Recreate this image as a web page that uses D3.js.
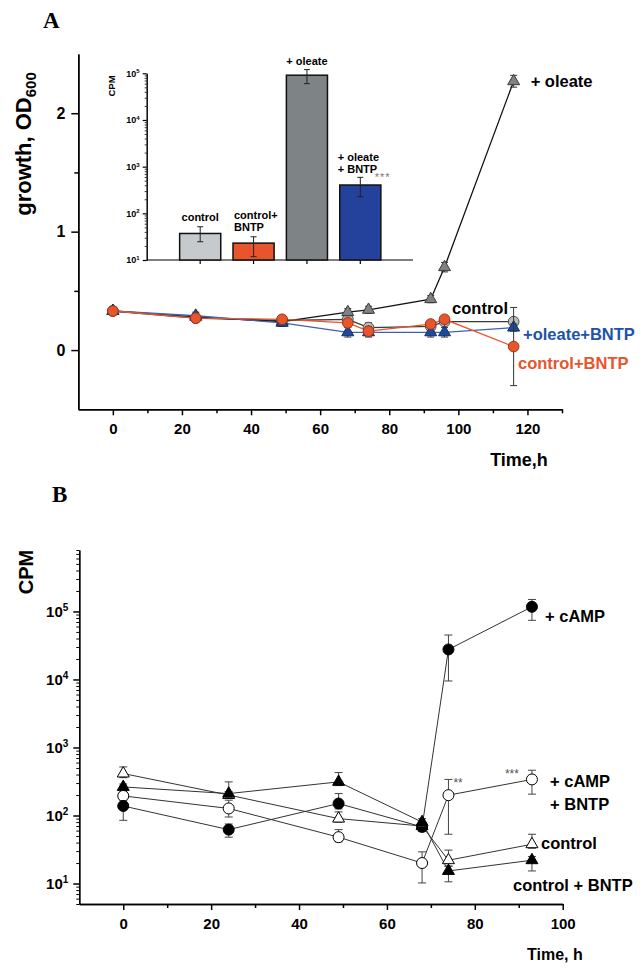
<!DOCTYPE html>
<html><head><meta charset="utf-8">
<script src="https://cdn.jsdelivr.net/npm/d3@7"></script>
<style>
body{margin:0;background:#fff}
svg{display:block}
text{font-family:"Liberation Sans",Arial,sans-serif;font-weight:bold;fill:#000}
</style>
</head><body>
<svg id="c" width="644" height="969"></svg>
<script>
// ---------- Panel A: growth (OD600) ----------
const timeA = [0, 24, 49, 68, 74, 92, 96, 116];
const odControl      = [0.33, 0.27, 0.25, 0.26, 0.19, 0.20, 0.24, 0.24];
const odControlErr   = [0.03, 0.03, 0.03, 0.03, 0.04, 0.03, 0.03, 0.03];
const odOleate       = [0.33, 0.28, 0.24, 0.32, 0.34, 0.43, 0.70, 2.27];
const odOleateErr    = [0.03, 0.03, 0.04, 0.03, 0.03, 0.03, 0.04, 0.05];
const odOleateBntp   = [0.33, 0.29, 0.23, 0.15, 0.15, 0.15, 0.15, 0.19];
const odOleateBntpErr= [0.03, 0.03, 0.03, 0.04, 0.04, 0.04, 0.04, 0.03];
const odControlBntp  = [0.33, 0.27, 0.26, 0.23, 0.16, 0.22, 0.26, 0.03];
const odControlBntpErr=[0.03, 0.03, 0.03, 0.03, 0.04, 0.03, 0.03, 0.33];
const timeATicks = [0, 20, 40, 60, 80, 100, 120];
const odTicks = [0, 1, 2];

// ---------- Panel A inset: CPM bars ----------
const insetCats = ["control", "control+BNTP", "+ oleate", "+ oleate + BNTP"];
const insetCpm  = [37, 23, 91000, 404];
const insetLo   = [24.6, 11.8, 60000, 227];
const insetHi   = [51.6, 31.5, 120000, 590];
const insetTicks = [10, 100, 1000, 10000, 100000];

// ---------- Panel B: CPM over time ----------
const timeB = [0, 24, 49, 68, 74, 93];
const cpmCamp       = [138, 62, 150, 68, 27600, 117000];
const cpmCampLo     = [85, 48, 125, 58, 9500, 74000];
const cpmCampHi     = [165, 75, 210, 80, 45000, 150000];
const cpmCampBntp   = [194, 127, 48, 20, 199, 339];
const cpmCampBntpLo = [170, 95, 41, 10.2, 53, 206];
const cpmCampBntpHi = [222, 168, 62, 29.2, 339, 463];
const cpmControl    = [414, 200, 90, 70, 22, 37.8];
const cpmControlLo  = [360, 180, 80, 62, 18, 33];
const cpmControlHi  = [518, 225, 113, 80, 31, 53];
const cpmControlBntp   = [263, 210, 312, 80, 15.3, 22];
const cpmControlBntpLo = [235, 185, 275, 70, 10.6, 15.3];
const cpmControlBntpHi = [290, 312, 428, 90, 18, 25];
const timeBTicks = [0, 20, 40, 60, 80, 100];
const cpmTicks = [10, 100, 1000, 10000, 100000];

const svg = d3.select("#c");

function styleAxis(g, sw, fs) {
  g.select(".domain").attr("stroke", "#000").attr("stroke-width", sw);
  g.selectAll(".tick line").attr("stroke", "#000").attr("stroke-width", sw);
  g.selectAll(".tick text").attr("fill", "#000").style("font-size", fs + "px")
    .style("font-weight", "bold").style("font-family", '"Liberation Sans",Arial,sans-serif');
}
function powLabels(g, supfs) {
  g.selectAll(".tick text").each(function (d) {
    const t = d3.select(this);
    t.text("");
    t.append("tspan").text("10");
    t.append("tspan").attr("dy", "-0.55em").style("font-size", supfs + "px").text(Math.round(Math.log10(d)));
  });
}
function logMinors(domain) {
  const out = [];
  for (let e = Math.floor(Math.log10(domain[0])); e <= Math.ceil(Math.log10(domain[1])); e++) {
    for (let m = 2; m <= 9; m++) {
      const v = m * Math.pow(10, e);
      if (v >= domain[0] && v <= domain[1]) out.push(v);
    }
  }
  return out;
}

// ================= PANEL A =================
const xA = d3.scaleLinear().domain([-10, 130]).range([78.3, 562]);
const yA = d3.scaleLinear().domain([-0.5, 2.5]).range([409.3, 54]);

svg.append("text").attr("x", 43).attr("y", 28)
  .style("font-family", '"Liberation Serif","Times New Roman",serif').style("font-size", "23px").text("A");

// axes
const gAx = svg.append("g").attr("transform", `translate(0,${yA(-0.5)})`)
  .call(d3.axisBottom(xA).tickValues(timeATicks).tickFormat(d3.format("d")).tickSize(6).tickSizeOuter(0).tickPadding(8));
styleAxis(gAx, 1.5, 15);
const gAxm = svg.append("g").attr("transform", `translate(0,${yA(-0.5)})`)
  .call(d3.axisBottom(xA).tickValues(d3.range(10, 131, 20)).tickFormat("").tickSize(4).tickSizeOuter(0));
styleAxis(gAxm, 1.5, 15);
const gAy = svg.append("g").attr("transform", `translate(${xA(-10)},0)`)
  .call(d3.axisLeft(yA).tickValues(odTicks).tickFormat(d3.format("d")).tickSize(7).tickSizeOuter(0).tickPadding(6));
styleAxis(gAy, 1.5, 16);
const gAym = svg.append("g").attr("transform", `translate(${xA(-10)},0)`)
  .call(d3.axisLeft(yA).tickValues([0.5, 1.5]).tickFormat("").tickSize(4).tickSizeOuter(0));
styleAxis(gAym, 1.5, 16);

svg.append("text").attr("transform", "translate(31,144) rotate(-90)").attr("text-anchor", "middle")
  .style("font-size", "22px")
  .call(t => { t.append("tspan").text("growth, OD"); t.append("tspan").attr("dy", "5").style("font-size", "15px").text("600"); });
svg.append("text").attr("x", 519).attr("y", 466).attr("text-anchor", "middle").style("font-size", "18px").text("Time,h");

const seriesA = [
  { vals: odControl, err: odControlErr, sym: d3.symbolCircle, size: 90, fill: "#bcbcbc", stroke: "#4a4a4a", line: "#3a3a3a" },
  { vals: odOleate, err: odOleateErr, sym: d3.symbolTriangle, size: 62, fill: "#7f8183", stroke: "#3a3a3a", line: "#111" },
  { vals: odOleateBntp, err: odOleateBntpErr, sym: d3.symbolTriangle, size: 62, fill: "#1d4a9a", stroke: "#0f2c66", line: "#3a62b8" },
  { vals: odControlBntp, err: odControlBntpErr, sym: d3.symbolCircle, size: 90, fill: "#e8542c", stroke: "#9a3416", line: "#e8542c" }
];
const lineA = d3.line().x(d => xA(d[0])).y(d => yA(d[1]));
seriesA.forEach(s => {
  const pts = timeA.map((t, i) => [t, s.vals[i], s.err[i]]);
  svg.append("path").attr("d", lineA(pts)).attr("fill", "none").attr("stroke", s.line).attr("stroke-width", 1.3);
});
seriesA.forEach(s => {
  const pts = timeA.map((t, i) => [t, s.vals[i], s.err[i]]);
  const g = svg.append("g");
  pts.forEach(p => {
    const cx = xA(p[0]), y1 = yA(p[1] + p[2]), y2 = yA(p[1] - p[2]);
    g.append("line").attr("x1", cx).attr("x2", cx).attr("y1", y1).attr("y2", y2).attr("stroke", "#333").attr("stroke-width", 1);
    [y1, y2].forEach(yy => g.append("line").attr("x1", cx - 3.5).attr("x2", cx + 3.5).attr("y1", yy).attr("y2", yy).attr("stroke", "#333").attr("stroke-width", 1));
  });
  g.selectAll("path").data(pts).join("path")
    .attr("d", d3.symbol(s.sym, s.size))
    .attr("transform", d => `translate(${xA(d[0])},${yA(d[1])})`)
    .attr("fill", s.fill).attr("stroke", s.stroke).attr("stroke-width", 1);
});

const lastA = timeA[timeA.length - 1];
svg.append("text").attr("x", xA(lastA) + 17).attr("y", yA(odOleate[7]) + 6).style("font-size", "16.5px").text("+ oleate");
svg.append("text").attr("x", 508).attr("y", yA(odControl[7]) - 8).attr("text-anchor", "end").style("font-size", "16.5px").text("control");
svg.append("text").attr("x", 523).attr("y", yA(odOleateBntp[7]) + 12).style("font-size", "16.5px").style("fill", "#2152a8").text("+oleate+BNTP");
svg.append("text").attr("x", 518).attr("y", yA(odControlBntp[7]) + 22).style("font-size", "16.5px").style("fill", "#e8542c").text("control+BNTP");

// ----- inset -----
const xI = d3.scaleBand().domain(insetCats).range([173.5, 387]).paddingInner(0.23).paddingOuter(0.115);
const yI = d3.scaleLog().domain([10, 100000]).range([260, 73.3]);
const insetFill = ["#c6cacd", "#e8542c", "#7e8385", "#24419c"];

const gIx = svg.append("g").attr("transform", `translate(0,260)`)
  .call(d3.axisBottom(xI).tickFormat("").tickSize(4).tickSizeOuter(0));
gIx.select(".domain").attr("d", `M146.7,0H413`);
styleAxis(gIx, 1.2, 9);
const gIy = svg.append("g").attr("transform", `translate(146.7,0)`)
  .call(d3.axisLeft(yI).tickValues(insetTicks).tickSize(4).tickSizeOuter(0).tickPadding(3));
styleAxis(gIy, 1.2, 9);
powLabels(gIy, 6);
const gIym = svg.append("g").attr("transform", `translate(146.7,0)`)
  .call(d3.axisLeft(yI).tickValues(logMinors([10, 100000])).tickFormat("").tickSize(2).tickSizeOuter(0));
styleAxis(gIym, 0.8, 9);
svg.append("text").attr("transform", "translate(115,86) rotate(-90)").attr("text-anchor", "middle").style("font-size", "9.5px").text("CPM");

svg.append("g").selectAll("rect").data(insetCats).join("rect")
  .attr("x", d => xI(d)).attr("width", xI.bandwidth())
  .attr("y", (d, i) => yI(insetCpm[i])).attr("height", (d, i) => 260 - yI(insetCpm[i]))
  .attr("fill", (d, i) => insetFill[i]).attr("stroke", "#111").attr("stroke-width", 1.5);
insetCats.forEach((c, i) => {
  const cx = xI(c) + xI.bandwidth() / 2, y1 = yI(insetHi[i]), y2 = yI(insetLo[i]);
  svg.append("line").attr("x1", cx).attr("x2", cx).attr("y1", y1).attr("y2", y2).attr("stroke", "#222").attr("stroke-width", 1);
  [y1, y2].forEach(yy => svg.append("line").attr("x1", cx - 3).attr("x2", cx + 3).attr("y1", yy).attr("y2", yy).attr("stroke", "#222").attr("stroke-width", 1));
});
const bc = i => xI(insetCats[i]) + xI.bandwidth() / 2;
svg.append("text").attr("x", bc(0)).attr("y", yI(insetHi[0]) - 6).attr("text-anchor", "middle").style("font-size", "11px").text("control");
svg.append("text").attr("x", xI(insetCats[1]) + 1).attr("y", yI(insetHi[1]) - 18).style("font-size", "11px").text("control+");
svg.append("text").attr("x", xI(insetCats[1]) + 1).attr("y", yI(insetHi[1]) - 6).style("font-size", "11px").text("BNTP");
svg.append("text").attr("x", bc(2)).attr("y", yI(insetHi[2]) - 5).attr("text-anchor", "middle").style("font-size", "11px").text("+ oleate");
svg.append("text").attr("x", xI(insetCats[3]) - 2).attr("y", yI(insetHi[3]) - 16).style("font-size", "11px").text("+ oleate");
svg.append("text").attr("x", xI(insetCats[3]) - 2).attr("y", yI(insetHi[3]) - 4).style("font-size", "11px").text("+ BNTP");
svg.append("text").attr("x", xI(insetCats[3]) + 35).attr("y", yI(insetHi[3]) + 4).style("font-size", "11px")
  .style("font-weight", "normal").style("fill", "#777").style("letter-spacing", "1px").text("***");

// ================= PANEL B =================
const xB = d3.scaleLinear().domain([-10, 100]).range([79.3, 562.7]);
const yB = d3.scaleLog().domain([5, 800000]).range([904, 550]);

svg.append("text").attr("x", 52).attr("y", 502)
  .style("font-family", '"Liberation Serif","Times New Roman",serif').style("font-size", "23px").text("B");

const gBx = svg.append("g").attr("transform", `translate(0,904)`)
  .call(d3.axisBottom(xB).tickValues(timeBTicks).tickFormat(d3.format("d")).tickSize(6).tickSizeOuter(0).tickPadding(8));
styleAxis(gBx, 1.5, 15);
const gBxm = svg.append("g").attr("transform", `translate(0,904)`)
  .call(d3.axisBottom(xB).tickValues(d3.range(10, 91, 20)).tickFormat("").tickSize(4).tickSizeOuter(0));
styleAxis(gBxm, 1.5, 15);
const gBy = svg.append("g").attr("transform", `translate(79.3,0)`)
  .call(d3.axisLeft(yB).tickValues(cpmTicks).tickSize(6).tickSizeOuter(0).tickPadding(5));
styleAxis(gBy, 1.5, 15);
powLabels(gBy, 10);
const gBym = svg.append("g").attr("transform", `translate(79.3,0)`)
  .call(d3.axisLeft(yB).tickValues(logMinors([5, 800000])).tickFormat("").tickSize(3).tickSizeOuter(0));
styleAxis(gBym, 1, 15);

svg.append("text").attr("transform", "translate(33,572) rotate(-90)").attr("text-anchor", "middle").style("font-size", "20px").text("CPM");
svg.append("text").attr("x", 527).attr("y", 960).style("font-size", "16px").text("Time, h");

const seriesB = [
  { vals: cpmControl, lo: cpmControlLo, hi: cpmControlHi, sym: d3.symbolTriangle, size: 62, fill: "#fff" },
  { vals: cpmCampBntp, lo: cpmCampBntpLo, hi: cpmCampBntpHi, sym: d3.symbolCircle, size: 95, fill: "#fff" },
  { vals: cpmCamp, lo: cpmCampLo, hi: cpmCampHi, sym: d3.symbolCircle, size: 95, fill: "#000" },
  { vals: cpmControlBntp, lo: cpmControlBntpLo, hi: cpmControlBntpHi, sym: d3.symbolTriangle, size: 62, fill: "#000" }
];
const lineB = d3.line().x(d => xB(d[0])).y(d => yB(d[1]));
seriesB.forEach(s => {
  const pts = timeB.map((t, i) => [t, s.vals[i]]);
  svg.append("path").attr("d", lineB(pts)).attr("fill", "none").attr("stroke", "#333").attr("stroke-width", 1);
});
seriesB.forEach(s => {
  const g = svg.append("g");
  timeB.forEach((t, i) => {
    const cx = xB(t), y1 = yB(s.hi[i]), y2 = yB(s.lo[i]);
    g.append("line").attr("x1", cx).attr("x2", cx).attr("y1", y1).attr("y2", y2).attr("stroke", "#444").attr("stroke-width", 1);
    [y1, y2].forEach(yy => g.append("line").attr("x1", cx - 4).attr("x2", cx + 4).attr("y1", yy).attr("y2", yy).attr("stroke", "#444").attr("stroke-width", 1));
  });
  g.selectAll("path").data(timeB.map((t, i) => [t, s.vals[i]])).join("path")
    .attr("d", d3.symbol(s.sym, s.size))
    .attr("transform", d => `translate(${xB(d[0])},${yB(d[1])})`)
    .attr("fill", s.fill).attr("stroke", "#000").attr("stroke-width", 1);
});

svg.append("text").attr("x", 545).attr("y", yB(cpmCamp[5]) + 15).style("font-size", "16.5px").text("+ cAMP");
svg.append("text").attr("x", 550).attr("y", yB(cpmCampBntp[5]) + 8).style("font-size", "16.5px").text("+ cAMP");
svg.append("text").attr("x", 550).attr("y", yB(cpmCampBntp[5]) + 31).style("font-size", "16.5px").text("+ BNTP");
svg.append("text").attr("x", 541).attr("y", yB(cpmControl[5]) + 5).style("font-size", "16.5px").text("control");
svg.append("text").attr("x", 513).attr("y", yB(cpmControlBntp[5]) + 31).style("font-size", "16.5px").text("control + BNTP");
svg.append("text").attr("x", xB(74) + 5).attr("y", yB(cpmCampBntpHi[4]) + 8).style("font-size", "12px")
  .style("font-weight", "normal").style("fill", "#555").text("**");
svg.append("text").attr("x", xB(93) - 27).attr("y", yB(cpmCampBntpHi[5]) + 8).style("font-size", "12px")
  .style("font-weight", "normal").style("fill", "#555").text("***");
</script>
</body></html>
